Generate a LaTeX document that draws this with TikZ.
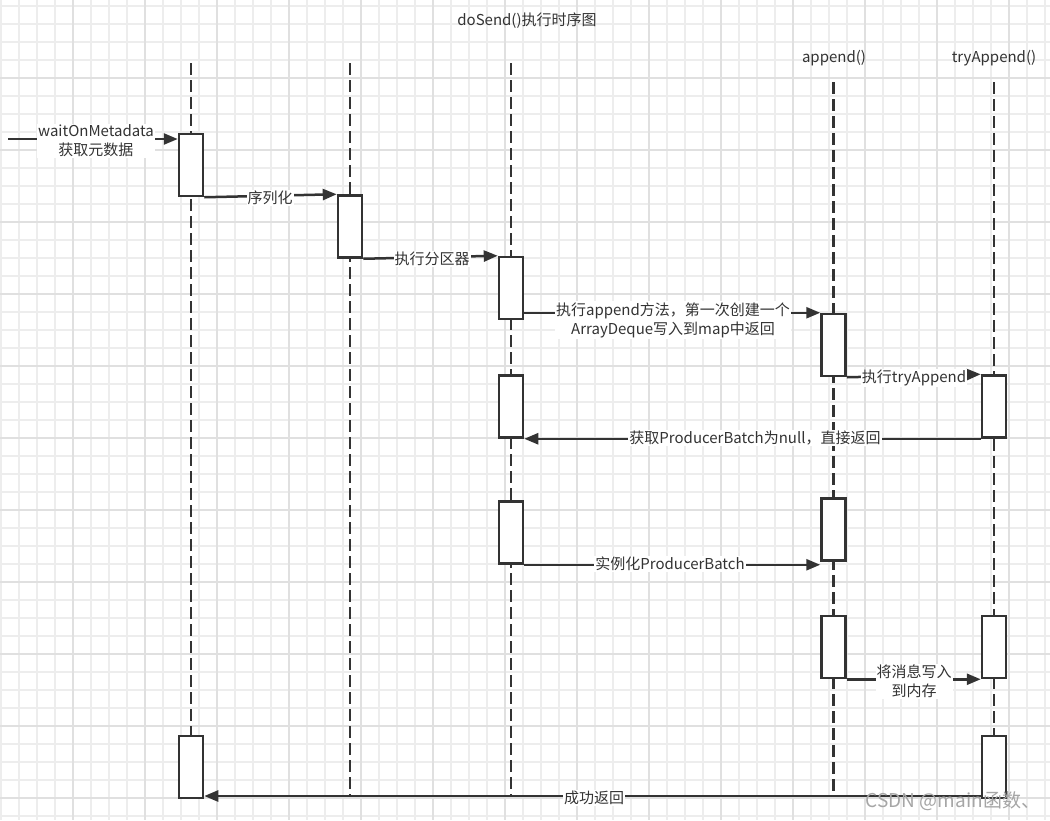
\documentclass[tikz,border=0pt]{standalone}
\usepackage{fontspec}
\setmainfont{Noto Sans CJK SC}
\usetikzlibrary{arrows.meta}
\definecolor{ink}{HTML}{333333}
\definecolor{gridminor}{HTML}{EDEDED}
\definecolor{gridmajor}{HTML}{E0E0E0}
\begin{document}
\begin{tikzpicture}[x=1pt,y=-1pt,
  lifeline/.style={draw=ink,line width=2.5pt,dash pattern=on 12pt off 5pt},
  actbox/.style={draw=ink,line width=2.5pt,fill=white,minimum width=24pt,minimum height=62pt,inner sep=0pt},
  msg/.style={draw=ink,line width=2.5pt,-{Triangle[length=14pt,width=11pt]}},
  lbl/.style={fill=white,inner sep=1pt,font=\fontsize{15}{19}\selectfont,text=ink,align=center},
  head/.style={inner sep=1pt,font=\fontsize{15}{19}\selectfont,text=ink}]
% background and grid
\fill[white] (0,0) rectangle (1050,820);
\useasboundingbox (0,0) rectangle (1050,820);
\foreach \gx in {1,19,...,1050} {\draw[gridminor,line width=1.2pt] (\gx,0) -- (\gx,820);}
\foreach \gy in {6,24,...,820} {\draw[gridminor,line width=1.2pt] (0,\gy) -- (1050,\gy);}
\foreach \gx in {73,145,...,1050} {\draw[gridmajor,line width=1.2pt] (\gx,0) -- (\gx,820);}
\foreach \gy in {78,150,...,820} {\draw[gridmajor,line width=1.2pt] (0,\gy) -- (1050,\gy);}
% titles
\node[head] (title) at (527,21) {doSend()执行时序图};
\node[head] (happ) at (834,58) {append()};
\node[head] (htry) at (994,58) {tryAppend()};
% lifelines
\coordinate (t1) at (191,63);  \coordinate (e1) at (191,797);
\coordinate (t2) at (350,63);  \coordinate (e2) at (350,797);
\coordinate (t3) at (511,63);  \coordinate (e3) at (511,797);
\coordinate (t4) at (833.5,82); \coordinate (e4) at (833.5,797);
\coordinate (t5) at (994,82);  \coordinate (e5) at (994,797);
\draw[lifeline] (t1) -- (e1);
\draw[lifeline] (t2) -- (e2);
\draw[lifeline] (t3) -- (e3);
\draw[lifeline] (t4) -- (e4);
\draw[lifeline] (t5) -- (e5);
% activation boxes
\node[actbox] (b1) at (191,165) {};
\node[actbox] (b2) at (350,226.5) {};
\node[actbox] (b3) at (511,288) {};
\node[actbox] (b4) at (833.5,345) {};
\node[actbox] (b5) at (994,406.5) {};
\node[actbox] (b6) at (511,406.5) {};
\node[actbox] (b7) at (511,532.5) {};
\node[actbox] (b8) at (833.5,529.5) {};
\node[actbox] (b9) at (833.5,647) {};
\node[actbox] (b10) at (994,647) {};
\node[actbox] (b11) at (994,767) {};
\node[actbox] (b12) at (191,767) {};
% messages
\coordinate (src) at (8,139);
\draw[msg] (src) -- (b1.west |- src);
\draw[msg] (b1.south east) -- (b2.north west);
\draw[msg] (b2.south east) -- (b3.north west);
\draw[msg] (b3.east |- b4.north) -- (b4.north west);
\draw[msg] (b4.south east) -- (b5.north west);
\draw[msg] (b5.south west) -- (b6.south east);
\draw[msg] (b7.south east) -- (b8.west |- b7.south);
\draw[msg] (b9.south east) -- (b10.south west);
\coordinate (ret) at (994,796);
\draw[msg] (b11.west |- ret) -- (b12.east |- ret);
% labels
\node[lbl] (m1) at (96,141) {waitOnMetadata\\获取元数据};
\node[lbl] (m2) at (270,198) {序列化};
\node[lbl] (m3) at (432,259) {执行分区器};
\node[lbl] (m4) at (673,320) {执行append方法，第一次创建一个\\ArrayDeque写入到map中返回};
\node[lbl] (m5) at (914,378) {执行tryAppend};
\node[lbl] (m6) at (755,438) {获取ProducerBatch为null，直接返回};
\node[lbl] (m7) at (670,564) {实例化ProducerBatch};
\node[lbl] (m8) at (914,681) {将消息写入\\到内存};
\node[lbl] (m9) at (594,798) {成功返回};
\node[font=\fontsize{19}{19}\selectfont,text=gray!70,inner sep=0pt] (wm) at (953,801) {CSDN @main函数、};
\end{tikzpicture}
\end{document}
